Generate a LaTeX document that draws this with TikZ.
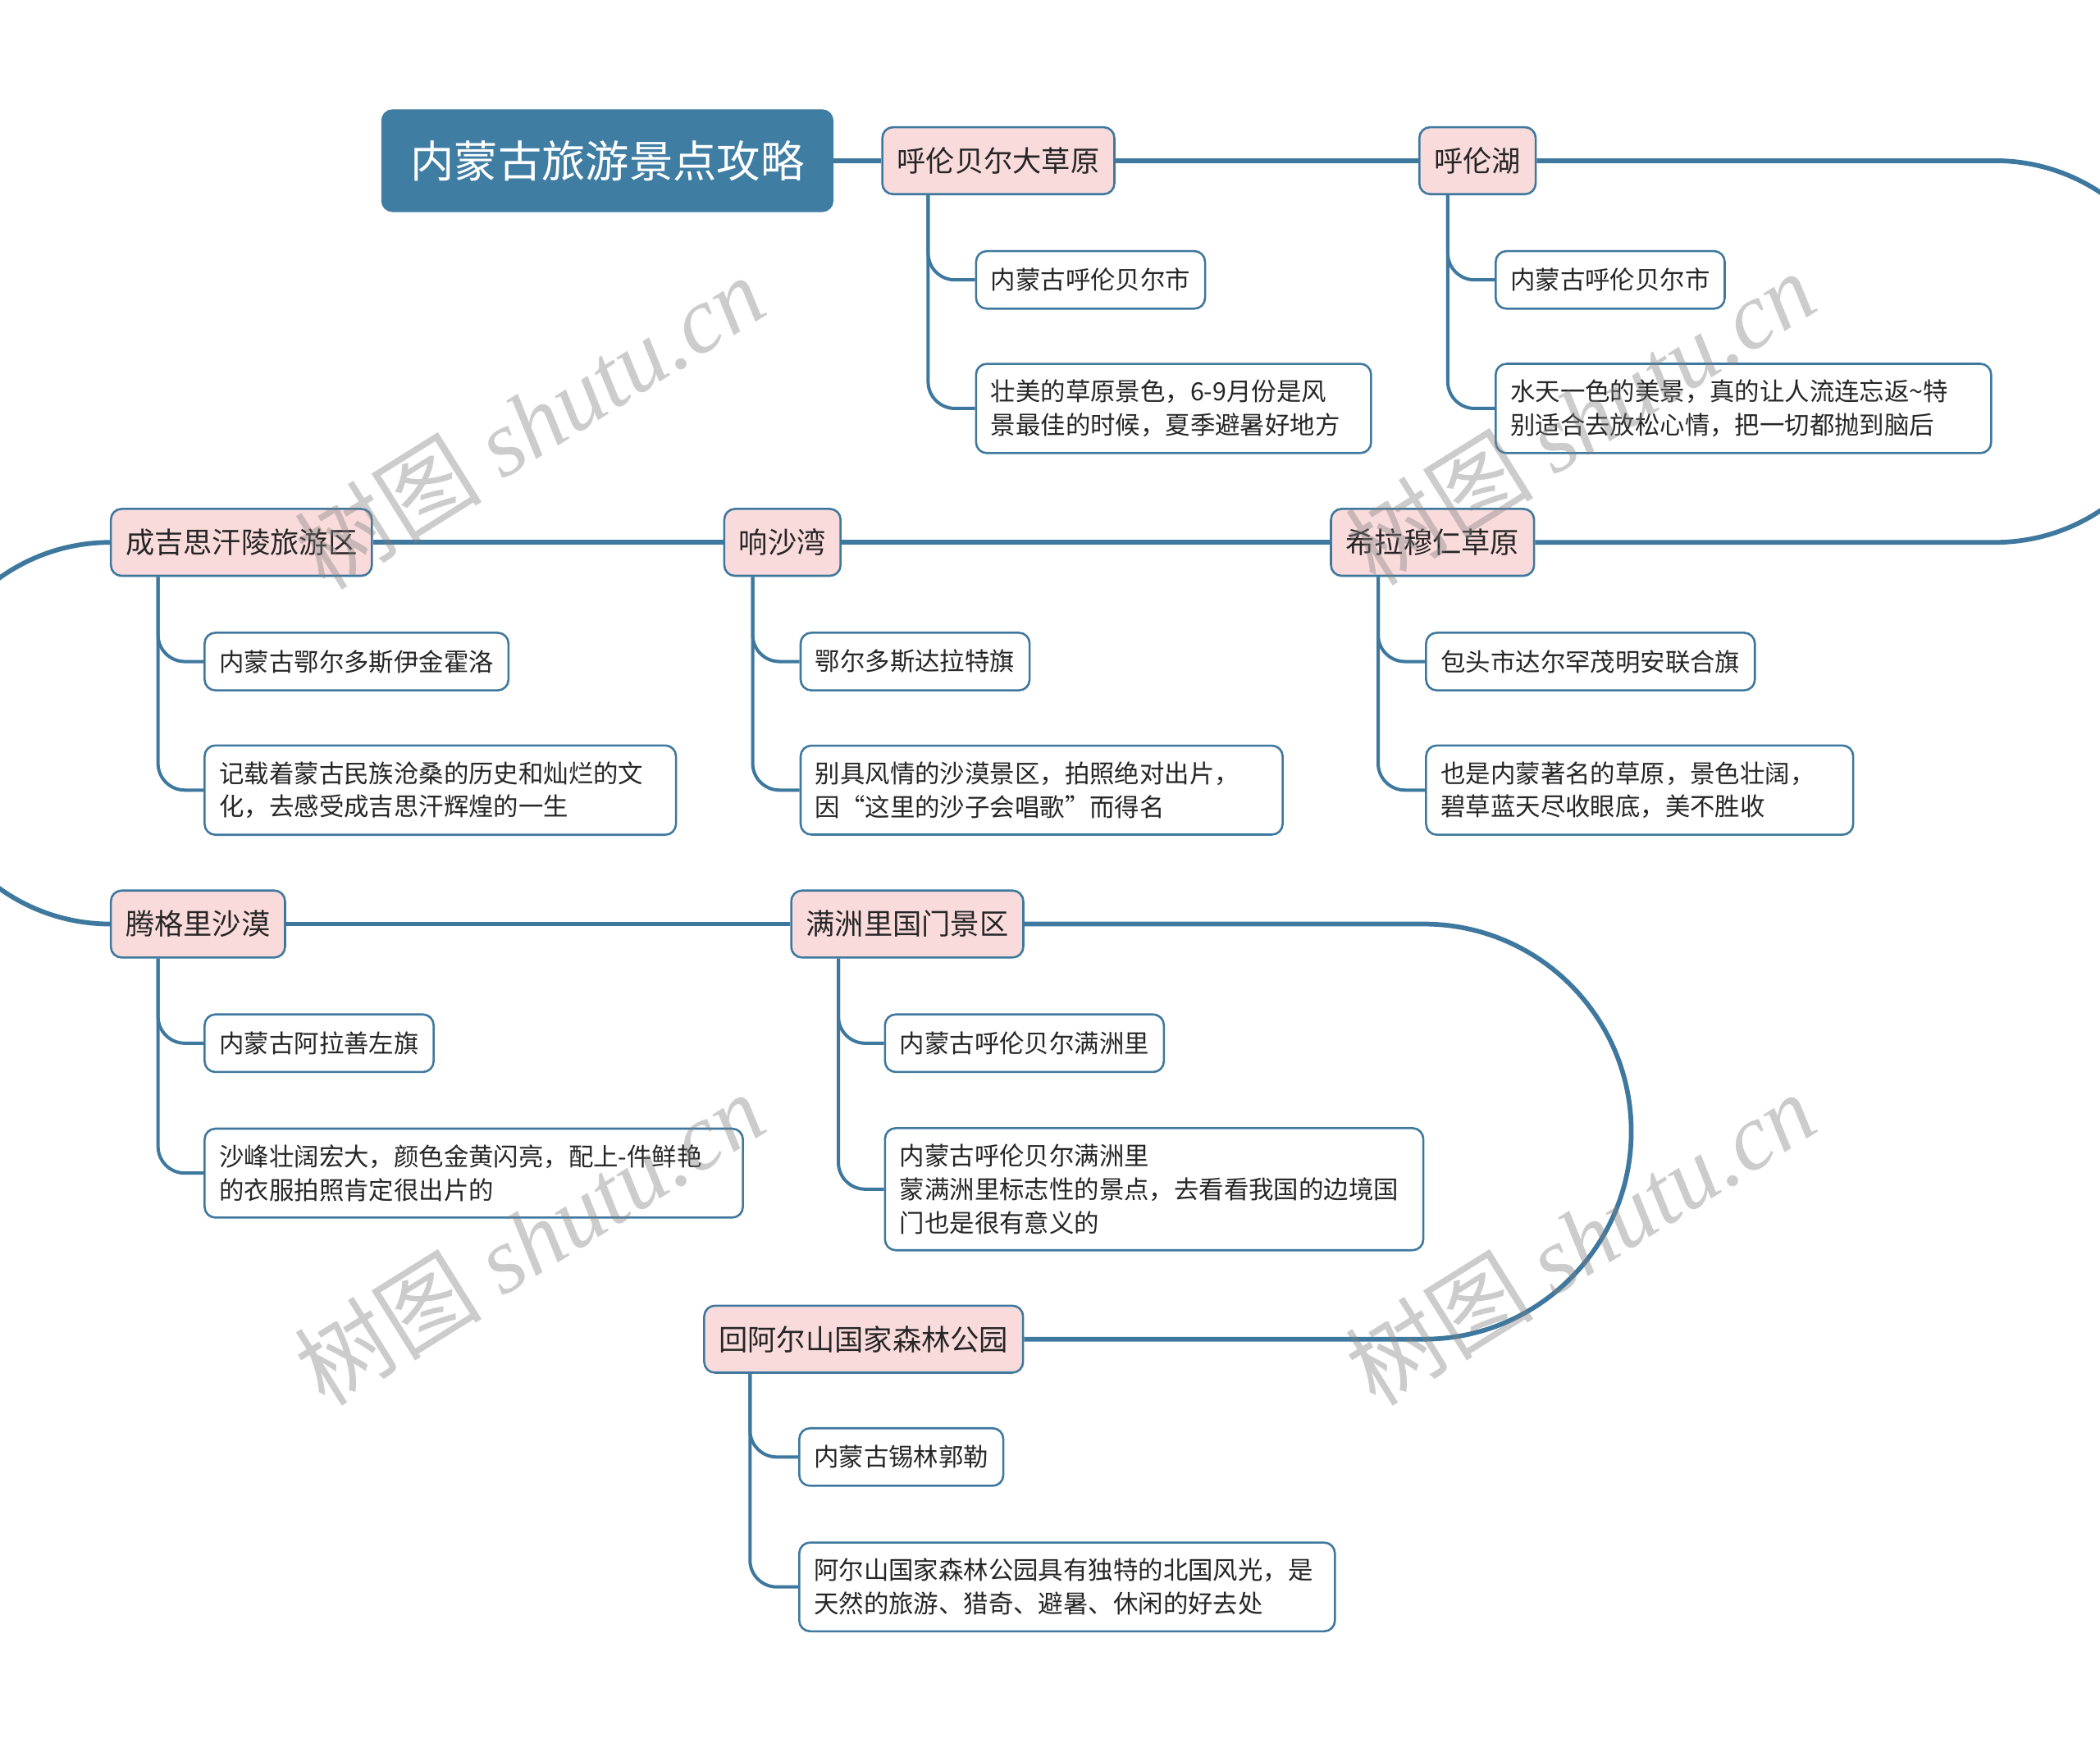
\documentclass[tikz,border=0pt]{standalone}
\usepackage{fontspec}
\setmainfont{Noto Sans CJK SC}
\newfontfamily\markfont{Liberation Serif}
\usetikzlibrary{positioning}

\definecolor{lineblue}{HTML}{3E789E}
\definecolor{rootblue}{HTML}{3F7DA3}
\definecolor{topicpink}{HTML}{FADBDB}
\definecolor{textdark}{HTML}{262626}

\begin{document}
\begin{tikzpicture}[x=0.02cm, y=-0.02cm,
  root/.style={draw=rootblue, fill=rootblue, text=white, rounded corners=0.16cm,
    font=\fontsize{18.6}{22}\selectfont, minimum width=6.74cm, minimum height=1.52cm},
  topic/.style={draw=lineblue, line width=0.9pt, fill=topicpink, text=textdark,
    rounded corners=0.16cm, font=\fontsize{12.3}{15}\selectfont,
    inner xsep=0.22cm, minimum height=1cm, anchor=west},
  leaf/.style={draw=lineblue, line width=0.9pt, fill=white, text=textdark,
    rounded corners=0.16cm, font=\fontsize{10.6}{14.2}\selectfont, align=left,
    inner xsep=0.22cm, inner ysep=0.24cm, minimum height=0.86cm, anchor=west},
  trunk/.style={draw=lineblue, line width=2pt},
  sub/.style={draw=lineblue, line width=1.4pt, rounded corners=0.4cm},
  watermark/.style={text=black!50, opacity=0.4, rotate=32,
    font=\fontsize{40}{40}\selectfont}]
  \useasboundingbox (0,0) rectangle (1568,1301);
  \clip (0,0) rectangle (1568,1301);

  % Title
  \node[root] (root) at (453.5,120) {内蒙古旅游景点攻略};

  % Row 1
  \node[topic] (n1) at (658,120) {呼伦贝尔大草原};
  \node[leaf] (c1a) at (728,209) {内蒙古呼伦贝尔市};
  \node[leaf, text width=5.46cm] (c1b) at (728,305) {壮美的草原景色，6-9月份是风\\景最佳的时候，夏季避暑好地方};
  \node[topic] (n2) at (1059,120) {呼伦湖};
  \node[leaf] (c2a) at (1116,209) {内蒙古呼伦贝尔市};
  \node[leaf, text width=6.96cm] (c2b) at (1116,305) {水天一色的美景，真的让人流连忘返\textasciitilde 特\\别适合去放松心情，把一切都抛到脑后};

  % Row 2
  \node[topic] (n3) at (993,405) {希拉穆仁草原};
  \node[leaf] (c3a) at (1064,494) {包头市达尔罕茂明安联合旗};
  \node[leaf, text width=5.94cm] (c3b) at (1064,590) {也是内蒙著名的草原，景色壮阔，\\碧草蓝天尽收眼底，美不胜收};
  \node[topic] (n4) at (540,405) {响沙湾};
  \node[leaf] (c4a) at (597,494) {鄂尔多斯达拉特旗};
  \node[leaf, text width=6.76cm] (c4b) at (597,590) {别具风情的沙漠景区，拍照绝对出片，\\因“这里的沙子会唱歌”而得名};
  \node[topic] (n5) at (82,405) {成吉思汗陵旅游区};
  \node[leaf] (c5a) at (152,494) {内蒙古鄂尔多斯伊金霍洛};
  \node[leaf, text width=6.6cm] (c5b) at (152,590) {记载着蒙古民族沧桑的历史和灿烂的文\\化，去感受成吉思汗辉煌的一生};

  % Row 3
  \node[topic] (n6) at (82,690) {腾格里沙漠};
  \node[leaf] (c6a) at (152,779) {内蒙古阿拉善左旗};
  \node[leaf, text width=7.6cm] (c6b) at (152,876) {沙峰壮阔宏大，颜色金黄闪亮，配上-件鲜艳\\的衣服拍照肯定很出片的};
  \node[topic] (n7) at (590,690) {满洲里国门景区};
  \node[leaf] (c7a) at (660,779) {内蒙古呼伦贝尔满洲里};
  \node[leaf, text width=7.6cm] (c7b) at (660,888) {内蒙古呼伦贝尔满洲里\\蒙满洲里标志性的景点，去看看我国的边境国\\门也是很有意义的};

  % Row 4
  \node[topic] (n8) at (525,1000) {回阿尔山国家森林公园};
  \node[leaf] (c8a) at (596,1088) {内蒙古锡林郭勒};
  \node[leaf, text width=7.56cm] (c8b) at (596,1185) {阿尔山国家森林公园具有独特的北国风光，是\\天然的旅游、猎奇、避暑、休闲的好去处};

  % Main line
  \draw[trunk] (root) -- (n1);
  \draw[trunk] (n1) -- (n2);
  \draw[trunk, rounded corners=2.85cm] (n2.east) -- (1632,120) -- (1632,405) -- (n3.east);
  \draw[trunk] (n3) -- (n4);
  \draw[trunk] (n4) -- (n5);
  \draw[trunk, rounded corners=2.85cm] (n5.west) -- (-60,405) -- (-60,690) -- (n6.west);
  \draw[trunk] (n6) -- (n7);
  \draw[trunk, rounded corners=3.1cm] (n7.east) -- (1218,690) -- (1218,1000) -- (n8.east);

  % Branches
  \draw[sub] ([xshift=0.7cm]n1.south west) |- (c1a.west);
  \draw[sub] ([xshift=0.7cm]n1.south west) |- (c1b.west);
  \draw[sub] ([xshift=0.44cm]n2.south west) |- (c2a.west);
  \draw[sub] ([xshift=0.44cm]n2.south west) |- (c2b.west);
  \draw[sub] ([xshift=0.72cm]n3.south west) |- (c3a.west);
  \draw[sub] ([xshift=0.72cm]n3.south west) |- (c3b.west);
  \draw[sub] ([xshift=0.44cm]n4.south west) |- (c4a.west);
  \draw[sub] ([xshift=0.44cm]n4.south west) |- (c4b.west);
  \draw[sub] ([xshift=0.72cm]n5.south west) |- (c5a.west);
  \draw[sub] ([xshift=0.72cm]n5.south west) |- (c5b.west);
  \draw[sub] ([xshift=0.72cm]n6.south west) |- (c6a.west);
  \draw[sub] ([xshift=0.72cm]n6.south west) |- (c6b.west);
  \draw[sub] ([xshift=0.72cm]n7.south west) |- (c7a.west);
  \draw[sub] ([xshift=0.72cm]n7.south west) |- (c7b.west);
  \draw[sub] ([xshift=0.7cm]n8.south west) |- (c8a.west);
  \draw[sub] ([xshift=0.7cm]n8.south west) |- (c8b.west);

  % Watermarks
  \node[watermark] (wm1) at (395,315) {树图 {\markfont\itshape shutu.cn}};
  \node[watermark] (wm2) at (1180,312) {树图 {\markfont\itshape shutu.cn}};
  \node[watermark] (wm3) at (395,925) {树图 {\markfont\itshape shutu.cn}};
  \node[watermark] (wm4) at (1180,925) {树图 {\markfont\itshape shutu.cn}};
\end{tikzpicture}
\end{document}
